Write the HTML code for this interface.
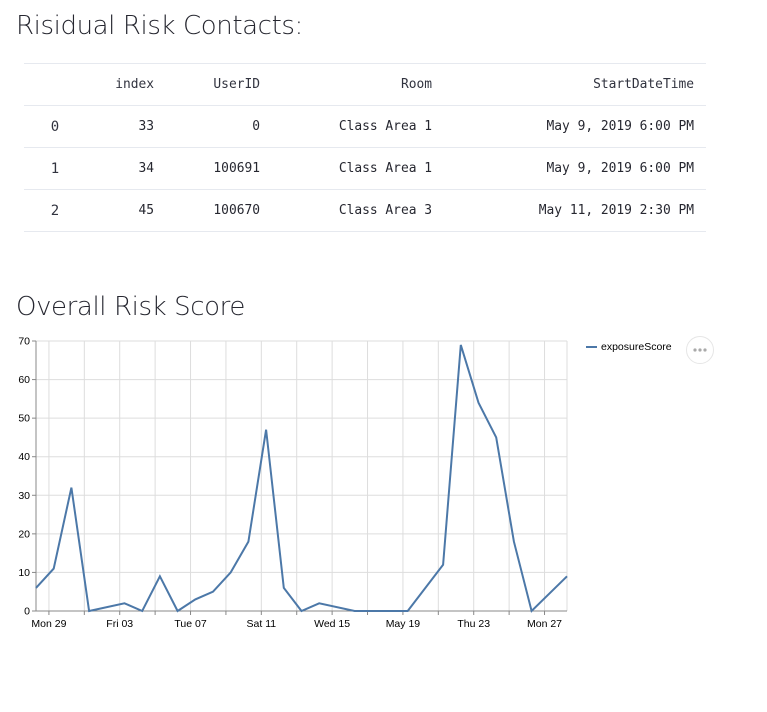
<!DOCTYPE html>
<html><head><meta charset="utf-8">
<style>
body{margin:0;width:767px;height:712px;background:#fff;font-family:"Liberation Sans","DejaVu Sans",sans-serif;color:#262730;position:relative;overflow:hidden}
h2{position:absolute;left:16px;margin:0;font-weight:300;font-size:26px;font-family:"DejaVu Sans","Liberation Sans",sans-serif;letter-spacing:-0.4px}
table{position:absolute;left:24px;top:63px;width:682px;border-collapse:collapse;font-family:"DejaVu Sans Mono","Liberation Mono",monospace;font-size:12.9px;table-layout:fixed}
td,th{height:41px;border-top:1px solid #e6e9ef;border-bottom:1px solid #e6e9ef;text-align:right;padding:0 12px;font-weight:normal}
th{color:#31333f}
td.i{text-align:center;color:#31333f;font-size:14px;padding:0}
</style></head><body>
<h2 style="top:11px">Risidual Risk Contacts:</h2>
<table>
<tr><th style="width:62px;padding:0"></th><th style="width:56px">index</th><th style="width:82px">UserID</th><th style="width:148px">Room</th><th>StartDateTime</th></tr>
<tr><td class="i">0</td><td>33</td><td>0</td><td>Class Area 1</td><td>May 9, 2019 6:00 PM</td></tr>
<tr><td class="i">1</td><td>34</td><td>100691</td><td>Class Area 1</td><td>May 9, 2019 6:00 PM</td></tr>
<tr><td class="i">2</td><td>45</td><td>100670</td><td>Class Area 3</td><td>May 11, 2019 2:30 PM</td></tr>
</table>
<h2 style="top:292px">Overall Risk Score</h2>
<svg id="chart" width="767" height="712" style="position:absolute;left:0;top:0" font-family="Liberation Sans, DejaVu Sans, sans-serif"></svg>
<script>
const dayOffsets=[0,1,2,3,5,6,7,8,9,10,11,12,13,14,15,16,18,21,23,24,25,26,27,28,30];
const scores=[6,11,32,0,2,0,9,0,3,5,10,18,47,6,0,2,0,0,12,69,54,45,18,0,9];
const yTicks=[0,10,20,30,40,50,60,70];
const xTickLabels=["Mon 29","Fri 03","Tue 07","Sat 11","Wed 15","May 19","Thu 23","Mon 27"];
const seriesName="exposureScore";
const svg=document.getElementById('chart');
const NS="http://www.w3.org/2000/svg";
const X0=36,X1=567,Y0=611,Y1=341;
const tickShift=0.73, dayPx=17.7;
const xs=d=>X0+d*dayPx;
const ys=v=>Y0-(v/70)*(Y0-Y1);
function mk(t,a){const e=document.createElementNS(NS,t);for(const k in a)e.setAttribute(k,a[k]);svg.appendChild(e);return e;}
yTicks.forEach(v=>{
 const g=mk('line',{x1:X0,x2:X1,y1:ys(v),y2:ys(v),stroke:'#ddd','stroke-width':1});
 
 
 mk('line',{x1:X0-4,x2:X0,y1:ys(v),y2:ys(v),stroke:'#888'});
 const t=mk('text',{x:X0-6,y:ys(v)+3.5,'text-anchor':'end','font-size':10.5,fill:'#000'});t.textContent=v;
 
 
});
for(let d=tickShift;d<=31;d+=2){const x=xs(d);if(x>X1)break;
 const g=mk('line',{x1:x,x2:x,y1:Y1,y2:Y0,stroke:'#ddd'});
 
 
 mk('line',{x1:x,x2:x,y1:Y0,y2:Y0+4,stroke:'#888'});}
mk('line',{x1:X1,x2:X1,y1:Y1,y2:Y0,stroke:'#ddd'});
xTickLabels.forEach((l,i)=>{const t=mk('text',{x:xs(i*4+tickShift),y:Y0+16,'text-anchor':'middle','font-size':10.5,fill:'#000'});t.textContent=l;
 
 });
mk('line',{x1:X0,x2:X0,y1:Y1,y2:Y0,stroke:'#888'});
mk('line',{x1:X0,x2:X1,y1:Y0,y2:Y0,stroke:'#888'});
const p=mk('path',{d:dayOffsets.map((d,i)=>(i?'L':'M')+xs(d).toFixed(1)+','+ys(scores[i]).toFixed(1)).join(''),fill:'none',stroke:'#4c78a8','stroke-width':2});


const lg=mk('line',{x1:586,x2:597,y1:347,y2:347,stroke:'#4c78a8','stroke-width':2});


const lt=mk('text',{x:601,y:350,'font-size':10.5,fill:'#000'});lt.textContent=seriesName;


const mb=mk('circle',{cx:700,cy:350,r:13.5,fill:'#fff',stroke:'#e6e6e6'});


[-5,0,5].forEach(o=>mk('circle',{cx:700+o,cy:350,r:1.6,fill:'#aaa'}));
</script>
</body></html>
